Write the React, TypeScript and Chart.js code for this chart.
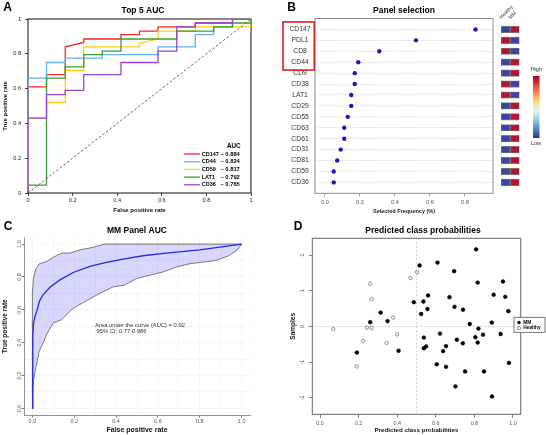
import React, { useEffect, useRef } from 'react';
import { Chart, registerables } from 'chart.js';

Chart.register(...registerables);

const FONT = "'Liberation Sans', Arial, Helvetica, sans-serif";
Chart.defaults.font.family = FONT;

// ---------------- Panel A : Top 5 AUC ----------------
const rocNames = ['CD147', 'CD44', 'CD59', 'LAT1', 'CD36'];
const rocAuc = ['0.884', '0.824', '0.817', '0.792', '0.765'];
const rocColors = ['#f0282a', '#62b2f0', '#fbd20e', '#3b9d35', '#9a45d4'];
const fprCD147 = [0, 0, 0.083, 0.083, 0.167, 0.167, 0.25, 0.25, 0.417, 0.417, 0.5, 0.5, 0.583, 0.583, 0.75, 0.75, 0.917, 0.917, 1];
const tprCD147 = [0, 0.61, 0.61, 0.68, 0.68, 0.84, 0.865, 0.885, 0.885, 0.91, 0.91, 0.93, 0.93, 0.955, 0.955, 0.977, 0.977, 1, 1];
const fprCD44 = [0, 0, 0.083, 0.083, 0.167, 0.167, 0.333, 0.333, 0.583, 0.583, 0.75, 0.75, 0.833, 0.833, 0.917, 0.917, 1];
const tprCD44 = [0, 0.66, 0.66, 0.75, 0.75, 0.775, 0.775, 0.795, 0.795, 0.84, 0.84, 0.91, 0.91, 0.955, 0.955, 1, 1];
const fprCD59 = [0, 0, 0.083, 0.083, 0.167, 0.167, 0.25, 0.25, 0.5, 0.5, 0.583, 0.583, 0.75, 0.75, 1, 1];
const tprCD59 = [0, 0.43, 0.43, 0.52, 0.52, 0.705, 0.705, 0.84, 0.84, 0.86, 0.885, 0.93, 0.93, 0.955, 0.955, 1];
const fprLAT1 = [0, 0, 0.083, 0.083, 0.167, 0.167, 0.25, 0.25, 0.333, 0.333, 0.417, 0.417, 0.667, 0.667, 0.833, 0.833, 0.917, 0.917, 1, 1];
const tprLAT1 = [0, 0.045, 0.045, 0.66, 0.66, 0.725, 0.725, 0.795, 0.795, 0.815, 0.815, 0.885, 0.885, 0.93, 0.93, 0.955, 0.955, 0.977, 0.977, 1];
const fprCD36 = [0, 0, 0.083, 0.083, 0.167, 0.167, 0.25, 0.25, 0.417, 0.417, 0.583, 0.583, 0.667, 0.667, 0.75, 0.75, 0.917, 0.917, 1];
const tprCD36 = [0, 0.43, 0.43, 0.565, 0.565, 0.59, 0.59, 0.68, 0.68, 0.75, 0.75, 0.815, 0.815, 0.955, 0.955, 0.977, 0.977, 1, 1];
const rocFpr = [fprCD147, fprCD44, fprCD59, fprLAT1, fprCD36];
const rocTpr = [tprCD147, tprCD44, tprCD59, tprLAT1, tprCD36];
const chanceX = [0, 1];
const chanceY = [0, 1];
const rocTicks = [0, 0.2, 0.4, 0.6, 0.8, 1];

// ---------------- Panel B : Panel selection ----------------
const markers = ['CD147', 'PDL1', 'CD8', 'CD44', 'CD9', 'CD38', 'LAT1', 'CD29', 'CD55', 'CD63', 'CD61', 'CD31', 'CD81', 'CD59', 'CD36'];
const selFreq = [0.86, 0.52, 0.31, 0.19, 0.17, 0.17, 0.15, 0.15, 0.13, 0.11, 0.11, 0.09, 0.07, 0.05, 0.05];
const selTicks = [0, 0.2, 0.4, 0.6, 0.8];
const highlighted = ['CD147', 'PDL1', 'CD8', 'CD44'];
const heatColumns = ['Healthy', 'MM'];
const healthyLevel = ['low', 'high', 'high', 'low', 'low', 'high', 'high', 'low', 'low', 'low', 'low', 'low', 'low', 'low', 'low'];
const mmLevel = ['high', 'low', 'low', 'high', 'high', 'low', 'low', 'high', 'high', 'high', 'high', 'high', 'high', 'high', 'high'];
const colorbarStops = ['#a50026', '#d73027', '#f46d43', '#fdae61', '#fee090', '#e0f3f8', '#abd9e9', '#74add1', '#4575b4', '#313695'];

// ---------------- Panel C : MM Panel AUC ----------------
const meanFpr = [0, 0.001, 0.003, 0.006, 0.013, 0.025, 0.033, 0.05, 0.084, 0.132, 0.195, 0.275, 0.354, 0.433, 0.529, 0.64, 0.8, 1];
const meanTpr = [0, 0.2, 0.45, 0.52, 0.562, 0.609, 0.65, 0.69, 0.737, 0.782, 0.827, 0.864, 0.888, 0.908, 0.929, 0.945, 0.965, 1];
const upperFpr = [0, 0, 0.005, 0.017, 0.033, 0.068, 0.1, 0.14, 0.18, 0.227, 0.275, 0.306, 0.346, 1];
const upperTpr = [0, 0.7, 0.79, 0.85, 0.88, 0.894, 0.92, 0.945, 0.945, 0.965, 0.976, 0.986, 1, 1];
const lowerFpr = [0, 0.002, 0.005, 0.017, 0.033, 0.052, 0.068, 0.1, 0.14, 0.195, 0.26, 0.322, 0.386, 0.44, 0.497, 0.56, 0.624, 0.687, 0.75, 0.814, 0.878, 0.94, 0.98, 1];
const lowerTpr = [0, 0.12, 0.17, 0.25, 0.35, 0.4, 0.45, 0.52, 0.54, 0.61, 0.656, 0.7, 0.74, 0.75, 0.79, 0.81, 0.83, 0.86, 0.88, 0.89, 0.9, 0.93, 0.965, 1];
const cGridVals = [0, 0.1, 0.2, 0.3, 0.4, 0.5, 0.6, 0.7, 0.8, 0.9, 1];
const cTickVals = [0, 0.2, 0.4, 0.6, 0.8, 1];
const aucLines = ['Area under the curve (AUC) = 0.92', '95% CI: 0.77-0.986'];
const aucTextX = [0.3, 0.307];
const aucTextY = [0.507, 0.471];

// ---------------- Panel D : Predicted class probabilities ----------------
const mmProb = [0.809, 0.609, 0.516, 0.695, 0.817, 0.948, 0.9, 0.96, 0.671, 0.56, 0.486, 0.536, 0.697, 0.741, 0.976, 0.557, 0.524, 0.314, 0.35, 0.26, 0.89, 0.776, 0.821, 0.622, 0.845, 0.936, 0.805, 0.538, 0.709, 0.74, 0.817, 0.55, 0.538, 0.653, 0.638, 0.407, 0.191, 0.605, 0.653, 0.979, 0.752, 0.85, 0.702, 0.891];
const mmSample = [2.16, 1.79, 1.71, 1.55, 1.23, 1.26, 0.89, 0.83, 0.82, 0.87, 0.68, 0.7, 0.55, 0.47, 0.43, 0.49, 0.35, 0.39, 0.15, 0.12, 0.11, 0.07, -0.06, -0.2, -0.23, -0.21, -0.3, -0.31, -0.37, -0.47, -0.45, -0.56, -0.61, -0.55, -0.69, -0.68, -0.73, -1.06, -1.13, -1.02, -1.26, -1.26, -1.68, -1.96];
const healthyProb = [0.503, 0.469, 0.26, 0.267, 0.379, 0.243, 0.267, 0.069, 0.4, 0.224, 0.345, 0.19];
const healthySample = [1.52, 1.36, 1.2, 0.77, 0.25, -0.03, -0.04, -0.07, -0.22, -0.4, -0.46, -1.12];
const dXTicks = [0, 0.2, 0.4, 0.6, 0.8, 1];
const dYTicks = [-2, -1, 0, 1, 2];
const dRefX = 0.5;
const dRefY = 0;
const classNames = ['MM', 'Healthy'];

// ---------------- helpers ----------------
const LOW = '#3a45a3';
const HIGH = '#b3172f';

const zip = (xs: number[], ys: number[]) => xs.map((x, i) => ({ x, y: ys[i] }));

function txt(ctx: any, s: string, x: number, y: number, o: any = {}) {
  ctx.save();
  ctx.font = `${o.weight || 'normal'} ${o.size || 6}px ${FONT}`;
  ctx.fillStyle = o.color || '#000';
  ctx.textAlign = o.align || 'center';
  ctx.textBaseline = o.baseline || 'middle';
  ctx.translate(x, y);
  if (o.rotate) ctx.rotate(o.rotate);
  ctx.fillText(s, 0, 0);
  ctx.restore();
}

function boxStroke(chart: any, color: string, lw: number) {
  const { ctx, chartArea: ca } = chart;
  ctx.save();
  ctx.strokeStyle = color;
  ctx.lineWidth = lw;
  ctx.strokeRect(ca.left, ca.top, ca.right - ca.left, ca.bottom - ca.top);
  ctx.restore();
}

const fixW = (w: number) => (s: any) => { s.width = w; };
const fixH = (h: number) => (s: any) => { s.height = h; };
const setTicks = (vals: number[]) => (s: any) => { s.ticks = vals.map((v) => ({ value: v })); };

const base = (padding: any) => ({
  responsive: false,
  maintainAspectRatio: false,
  animation: false,
  devicePixelRatio: 1,
  events: [],
  layout: { padding, autoPadding: false },
  plugins: { legend: { display: false }, tooltip: { enabled: false }, title: { display: false } },
});

// ---------------- Panel A config ----------------
function configA(): any {
  const datasets: any[] = rocNames.map((name, i) => ({
    label: name,
    data: zip(rocFpr[i], rocTpr[i]),
    showLine: true,
    borderColor: rocColors[i],
    backgroundColor: rocColors[i],
    borderWidth: 1.3,
    pointRadius: 0,
    order: 10 - i,
  }));
  datasets.push({
    label: 'Chance', data: zip(chanceX, chanceY), showLine: true, borderColor: '#3c3c3c',
    borderWidth: 0.8, borderDash: [2.5, 2], pointRadius: 0, order: 0,
  });
  const plug = {
    id: 'decoA',
    beforeDatasetsDraw(chart: any) { boxStroke(chart, '#111', 1); },
    afterDraw(chart: any) {
      const { ctx, chartArea: ca } = chart;
      txt(ctx, 'A', 7.5, 8, { size: 12, weight: 'bold' });
      txt(ctx, 'Top 5 AUC', 143, 10.5, { size: 8.5, weight: 'bold' });
      txt(ctx, 'AUC', ca.right - 17.3, ca.bottom - 47, { size: 6.3, weight: 'bold' });
      rocNames.forEach((n, i) => {
        const y = ca.bottom - 39 + i * 7.7;
        ctx.save();
        ctx.strokeStyle = rocColors[i];
        ctx.lineWidth = 1.3;
        ctx.beginPath();
        ctx.moveTo(ca.right - 67, y);
        ctx.lineTo(ca.right - 51, y);
        ctx.stroke();
        ctx.restore();
        txt(ctx, n, ca.right - 49.3, y, { size: 5.5, weight: 'bold', align: 'left' });
        txt(ctx, '\u2013 ' + rocAuc[i], ca.right - 30.5, y, { size: 5.8, weight: 'bold', align: 'left' });
      });
    },
  };
  return {
    type: 'scatter',
    data: { datasets },
    options: {
      ...base({ top: 19, right: 19, left: 0, bottom: 0 }),
      scales: {
        x: {
          type: 'linear', min: 0, max: 1, afterBuildTicks: setTicks(rocTicks), afterFit: fixH(25),
          ticks: { autoSkip: false, maxRotation: 0, padding: 1.4, color: '#222', font: { size: 5.6 }, callback: (v: number) => String(v) },
          grid: { drawOnChartArea: false, tickLength: 3, tickColor: '#222', tickWidth: 0.8 },
          border: { display: false },
          title: { display: true, text: 'False positive rate', color: '#111', font: { size: 6, weight: 'bold' }, padding: { top: 0, bottom: 4.4 } },
        },
        y: {
          type: 'linear', min: 0, max: 1, afterBuildTicks: setTicks(rocTicks), afterFit: fixW(28),
          ticks: { autoSkip: false, padding: 4, color: '#222', font: { size: 5.6 }, callback: (v: number) => String(v) },
          grid: { drawOnChartArea: false, tickLength: 3, tickColor: '#222', tickWidth: 0.8 },
          border: { display: false },
          title: { display: true, text: 'True positive rate', color: '#111', font: { size: 6, weight: 'bold' }, padding: { top: 1.4, bottom: 0 } },
        },
      },
    },
    plugins: [plug],
  };
}

// ---------------- Panel B config ----------------
function configB(): any {
  const rows = markers.map((_, i) => i + 1);
  const plug = {
    id: 'decoB',
    beforeDatasetsDraw(chart: any) { boxStroke(chart, '#8c8c8c', 1); },
    afterDraw(chart: any) {
      const { ctx } = chart;
      const ys = chart.scales.y;
      const first = markers.indexOf(highlighted[0]) + 1;
      const last = markers.indexOf(highlighted[highlighted.length - 1]) + 1;
      const top = ys.getPixelForValue(first - 0.68);
      const bot = ys.getPixelForValue(last + 0.72);
      ctx.save();
      ctx.strokeStyle = '#d42222';
      ctx.lineWidth = 1.6;
      ctx.strokeRect(13, top, 31.3, bot - top);
      ctx.restore();
      txt(ctx, 'B', 21.7, 7.5, { size: 12, weight: 'bold' });
      txt(ctx, 'Panel selection', 134, 11, { size: 8.5, weight: 'bold' });
    },
  };
  return {
    type: 'scatter',
    data: {
      datasets: [{
        label: 'Selected frequency',
        data: selFreq.map((v, i) => ({ x: v, y: rows[i] })),
        pointRadius: 2.2, pointBackgroundColor: '#1a1ab4', pointBorderWidth: 0,
      }],
    },
    options: {
      ...base({ top: 18.5, right: 5, left: 0, bottom: 0 }),
      scales: {
        x: {
          type: 'linear', min: -0.057, max: 0.96, afterBuildTicks: setTicks(selTicks), afterFit: fixH(24.7),
          ticks: { autoSkip: false, maxRotation: 0, padding: 2.5, color: '#555', font: { size: 5.6 }, callback: (v: number) => v.toFixed(1) },
          grid: { drawOnChartArea: false, tickLength: 3, tickColor: '#888', tickWidth: 0.8 },
          border: { display: false },
          title: { display: true, text: 'Selected Frequency (%)', color: '#222', font: { size: 5.5, weight: 'bold' }, padding: { top: 0, bottom: 3.7 } },
        },
        y: {
          type: 'linear', reverse: true, min: 0, max: 16, afterBuildTicks: setTicks(rows), afterFit: fixW(45),
          ticks: { autoSkip: false, crossAlign: 'center', padding: 4.4, color: '#333', font: { size: 6.8 }, callback: (v: number) => markers[v - 1] || '' },
          grid: { drawTicks: false, color: '#c2c2c2', lineWidth: 0.8 },
          border: { display: false, dash: [1, 1.5] },
        },
      },
    },
    plugins: [plug],
  };
}

// ---------------- Heatmap config (next to B) ----------------
function configH(): any {
  const rows = markers.map((_, i) => i + 1);
  const plug = {
    id: 'decoH',
    afterDraw(chart: any) {
      const { ctx, chartArea: ca } = chart;
      const xs = chart.scales.x;
      heatColumns.forEach((c, i) => {
        txt(ctx, c, xs.getPixelForValue(i + 0.5) - 3.5, ca.top + 1.5, { size: 5, color: '#333', align: 'left', baseline: 'bottom', rotate: -Math.PI / 4 });
      });
      const x0 = 37, w = 6.5, y0 = 76, y1 = 138;
      const g = ctx.createLinearGradient(0, y0, 0, y1);
      colorbarStops.forEach((c, i) => g.addColorStop(i / (colorbarStops.length - 1), c));
      ctx.save();
      ctx.fillStyle = g;
      ctx.fillRect(x0, y0, w, y1 - y0);
      ctx.restore();
      txt(ctx, 'High', 40.3, 69.5, { size: 5.5, color: '#333' });
      txt(ctx, 'Low', 40, 143.5, { size: 5.5, color: '#333' });
    },
  };
  const mk = (label: string, levels: string[], col: number) => ({
    label,
    data: rows.map((r) => ({ x: [col, col + 1], y: r })),
    backgroundColor: levels.map((l) => (l === 'high' ? HIGH : LOW)),
    borderColor: '#808080',
    borderWidth: 0.8,
    borderSkipped: false,
    barThickness: 6.5,
    grouped: false,
  });
  return {
    type: 'bar',
    data: { datasets: [mk(heatColumns[0], healthyLevel, 0), mk(heatColumns[1], mmLevel, 1)] },
    options: {
      ...base({ top: 18.5, right: 26.5, left: 5, bottom: 6.7 }),
      indexAxis: 'y',
      scales: {
        x: { type: 'linear', min: 0, max: 2, display: false, offset: false },
        y: { type: 'linear', reverse: true, min: 0, max: 16, display: false, offset: false },
      },
    },
    plugins: [plug],
  };
}

// ---------------- Panel C config ----------------
function configC(): any {
  const band = [...zip(upperFpr, upperTpr), ...zip(lowerFpr, lowerTpr).reverse()];
  const plug = {
    id: 'decoC',
    afterDraw(chart: any) {
      const { ctx } = chart;
      const ys = chart.scales.y;
      const xs = chart.scales.x;
      txt(ctx, 'C', 8, 9, { size: 12, weight: 'bold' });
      txt(ctx, 'MM Panel AUC', 137, 13, { size: 8.5, weight: 'bold' });
      cTickVals.forEach((v) => {
        txt(ctx, v.toFixed(1), 19, ys.getPixelForValue(v), { size: 5.5, color: '#555', rotate: -Math.PI / 2 });
      });
      aucLines.forEach((s, i) => {
        txt(ctx, s, xs.getPixelForValue(aucTextX[i]), ys.getPixelForValue(aucTextY[i]), { size: 5.8, color: '#333', align: 'left' });
      });
    },
  };
  const gridOpts = {
    color: '#e2e2e2', lineWidth: 0.7, tickLength: 2.5, tickWidth: 0.8,
    tickColor: (c: any) => (c.tick && cTickVals.includes(c.tick.value) ? '#555' : 'rgba(0,0,0,0)'),
  };
  return {
    type: 'scatter',
    data: {
      datasets: [
        { label: 'Mean ROC', data: zip(meanFpr, meanTpr), showLine: true, borderColor: '#2626e8', borderWidth: 1.3, pointRadius: 0, order: 0 },
        { label: 'Upper CI', data: zip(upperFpr, upperTpr), showLine: true, borderColor: '#5a5a5a', borderWidth: 0.8, pointRadius: 0, order: 1 },
        { label: 'Lower CI', data: zip(lowerFpr, lowerTpr), showLine: true, borderColor: '#5a5a5a', borderWidth: 0.8, pointRadius: 0, order: 2 },
        { label: '95% CI band', data: band, showLine: true, fill: 'shape', backgroundColor: 'rgba(115,115,250,0.28)', borderWidth: 0, borderColor: 'rgba(0,0,0,0)', pointRadius: 0, order: 5 },
      ],
    },
    options: {
      ...base({ top: 19.5, right: 20, left: 0, bottom: 0 }),
      scales: {
        x: {
          type: 'linear', min: -0.04, max: 1.04, afterBuildTicks: setTicks(cGridVals), afterFit: fixH(20),
          ticks: { autoSkip: false, maxRotation: 0, padding: 0.9, color: '#555', font: { size: 5.5 }, callback: (v: number) => (cTickVals.includes(v) ? v.toFixed(1) : '') },
          grid: gridOpts,
          border: { display: true, color: '#777', width: 0.8, dash: [1, 1] },
          title: { display: true, text: 'False positive rate', color: '#111', font: { size: 7, weight: 'bold' }, padding: { top: 0, bottom: 0.5 } },
        },
        y: {
          type: 'linear', min: -0.04, max: 1.04, afterBuildTicks: setTicks(cGridVals), afterFit: fixW(24),
          ticks: { display: false },
          grid: gridOpts,
          border: { display: true, color: '#777', width: 0.8, dash: [1, 1] },
          title: { display: true, text: 'True positive rate', color: '#111', font: { size: 6.5, weight: 'bold' }, padding: { top: 1.1, bottom: 0 } },
        },
      },
    },
    plugins: [plug],
  };
}

// ---------------- Panel D config ----------------
function configD(): any {
  const plug = {
    id: 'decoD',
    beforeDatasetsDraw(chart: any) {
      const { ctx, chartArea: ca } = chart;
      const xs = chart.scales.x;
      const ys = chart.scales.y;
      ctx.save();
      ctx.strokeStyle = '#c4c4c4';
      ctx.lineWidth = 0.8;
      ctx.setLineDash([2, 2]);
      ctx.beginPath();
      const px = xs.getPixelForValue(dRefX);
      const py = ys.getPixelForValue(dRefY);
      ctx.moveTo(px, ca.top); ctx.lineTo(px, ca.bottom);
      ctx.moveTo(ca.left, py); ctx.lineTo(ca.right, py);
      ctx.stroke();
      ctx.restore();
      boxStroke(chart, '#666', 1);
    },
    afterDraw(chart: any) {
      const { ctx, chartArea: ca } = chart;
      const ys = chart.scales.y;
      txt(ctx, 'D', 28, 9, { size: 12, weight: 'bold' });
      txt(ctx, 'Predicted class probabilities', 153, 12.7, { size: 8.5, weight: 'bold' });
      dYTicks.forEach((v) => {
        txt(ctx, String(v), 32.7, ys.getPixelForValue(v), { size: 5.3, color: '#555', rotate: -Math.PI / 2 });
      });
      // legend
      const lx = ca.right - 6.7;
      const ly = (ca.top + ca.bottom) / 2 - 9;
      ctx.save();
      ctx.fillStyle = '#fff';
      ctx.fillRect(lx, ly, 31, 15);
      ctx.strokeStyle = '#555';
      ctx.lineWidth = 0.8;
      ctx.strokeRect(lx, ly, 31, 15);
      ctx.beginPath();
      ctx.fillStyle = '#000';
      ctx.arc(lx + 5, ly + 5.2, 1.7, 0, Math.PI * 2);
      ctx.fill();
      ctx.beginPath();
      ctx.strokeStyle = '#666';
      ctx.arc(lx + 5, ly + 10.8, 1.6, 0, Math.PI * 2);
      ctx.stroke();
      ctx.restore();
      txt(ctx, classNames[0], lx + 9.3, ly + 5.2, { size: 4.8, weight: 'bold', align: 'left' });
      txt(ctx, classNames[1], lx + 9.3, ly + 10.8, { size: 4.8, weight: 'bold', align: 'left' });
    },
  };
  return {
    type: 'scatter',
    data: {
      datasets: [
        { label: classNames[0], data: zip(mmProb, mmSample), pointRadius: 1.9, pointBackgroundColor: '#000', pointBorderColor: '#000', pointBorderWidth: 0.5 },
        { label: classNames[1], data: zip(healthyProb, healthySample), pointRadius: 1.7, pointBackgroundColor: 'rgba(0,0,0,0)', pointBorderColor: '#777', pointBorderWidth: 0.8 },
      ],
    },
    options: {
      ...base({ top: 20.3, right: 25.3, left: 0, bottom: 0 }),
      scales: {
        x: {
          type: 'linear', min: -0.04, max: 1.04, afterBuildTicks: setTicks(dXTicks), afterFit: fixH(20.7),
          ticks: { autoSkip: false, maxRotation: 0, padding: 2.2, color: '#555', font: { size: 5.3 }, callback: (v: number) => v.toFixed(1) },
          grid: { drawOnChartArea: false, tickLength: 3.5, tickColor: '#666', tickWidth: 0.8 },
          border: { display: false },
          title: { display: true, text: 'Predicted class probabilities', color: '#111', font: { size: 6.2, weight: 'bold' }, padding: { top: 0, bottom: 1.3 } },
        },
        y: {
          type: 'linear', min: -2.46, max: 2.47, afterBuildTicks: setTicks(dYTicks), afterFit: fixW(42.3),
          ticks: { display: false },
          grid: { drawOnChartArea: false, tickLength: 3.5, tickColor: '#666', tickWidth: 0.8 },
          border: { display: false },
          title: { display: true, text: 'Samples', color: '#111', font: { size: 6.5, weight: 'bold' }, padding: { top: 19.4, bottom: 0 } },
        },
      },
    },
    plugins: [plug],
  };
}

const panels = [
  { key: 'A', left: 0, top: 0, w: 270, h: 218, make: configA },
  { key: 'B', left: 270, top: 0, w: 228, h: 218, make: configB },
  { key: 'H', left: 496, top: 0, w: 50, h: 200, make: configH },
  { key: 'C', left: 0, top: 218, w: 270, h: 217, make: configC },
  { key: 'D', left: 270, top: 218, w: 276, h: 217, make: configD },
];

export default function App() {
  const refs = useRef<(HTMLCanvasElement | null)[]>([]);
  useEffect(() => {
    const charts: Chart[] = [];
    panels.forEach((p, i) => {
      const cv = refs.current[i];
      if (cv) charts.push(new Chart(cv, p.make()));
    });
    return () => charts.forEach((c) => c.destroy());
  }, []);
  return (
    <div style={{ position: 'absolute', left: 0, top: 0, width: 546, height: 435, background: '#fff', overflow: 'hidden' }}>
      {panels.map((p, i) => (
        <canvas
          key={p.key}
          ref={(el) => { refs.current[i] = el; }}
          width={p.w}
          height={p.h}
          style={{ position: 'absolute', left: p.left, top: p.top, width: p.w, height: p.h }}
        />
      ))}
    </div>
  );
}
